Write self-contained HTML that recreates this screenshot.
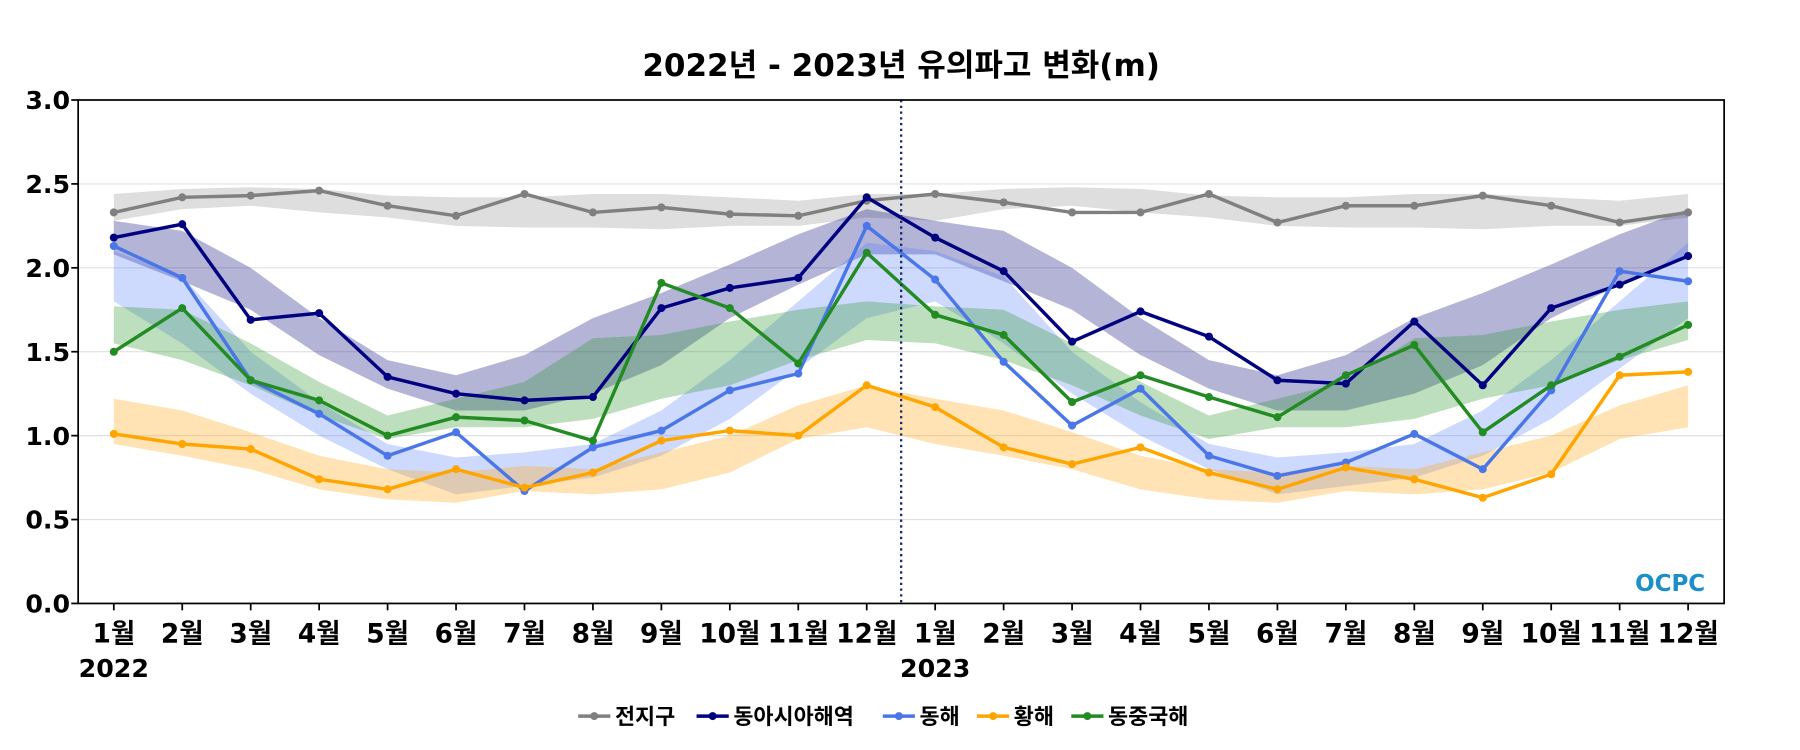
<!DOCTYPE html>
<html><head><meta charset="utf-8">
<style>
html,body{margin:0;padding:0;background:#fff;}
svg{display:block;font-family:"DejaVu Sans","Noto Sans CJK KR",sans-serif;}
</style></head>
<body>
<svg id="chart" width="1800" height="750" viewBox="0 0 1566 652.5" preserveAspectRatio="none">
<text x="784" y="66" text-anchor="middle" font-size="27" font-weight="bold">2022년 - 2023년 유의파고 변화(m)</text>
<g id="grid"></g>
<g id="bands"></g>
<g id="lines"></g>
<line x1="784" y1="87" x2="784" y2="525" stroke="#1a2a6c" stroke-width="2" stroke-dasharray="2,3"/>
<rect x="68" y="87" width="1432" height="438" fill="none" stroke="#000" stroke-width="1.5"/>
<g id="axes"></g>
<text x="1453" y="514" text-anchor="middle" font-size="20" font-weight="bold" fill="#1b8fc9">OCPC</text>
<g id="legend"></g>
</svg>
<script>
const monthLabels=["1월","2월","3월","4월","5월","6월","7월","8월","9월","10월","11월","12월"];
const yTicks=[0,0.5,1,1.5,2,2.5,3];
const globalVals=[2.33,2.42,2.43,2.46,2.37,2.31,2.44,2.33,2.36,2.32,2.31,2.40,2.44,2.39,2.33,2.33,2.44,2.27,2.37,2.37,2.43,2.37,2.27,2.33];
const eastAsiaVals=[2.18,2.26,1.69,1.73,1.35,1.25,1.21,1.23,1.76,1.88,1.94,2.42,2.18,1.98,1.56,1.74,1.59,1.33,1.31,1.68,1.30,1.76,1.90,2.07];
const eastSeaVals=[2.13,1.94,1.33,1.13,0.88,1.02,0.67,0.93,1.03,1.27,1.37,2.25,1.93,1.44,1.06,1.28,0.88,0.76,0.84,1.01,0.80,1.27,1.98,1.92];
const yellowSeaVals=[1.01,0.95,0.92,0.74,0.68,0.80,0.69,0.78,0.97,1.03,1.00,1.30,1.17,0.93,0.83,0.93,0.78,0.68,0.81,0.74,0.63,0.77,1.36,1.38];
const ecsVals=[1.50,1.76,1.33,1.21,1.00,1.11,1.09,0.97,1.91,1.76,1.43,2.09,1.72,1.60,1.20,1.36,1.23,1.11,1.36,1.54,1.02,1.30,1.47,1.66];
const globalHi=[2.44,2.47,2.48,2.47,2.43,2.42,2.42,2.44,2.44,2.42,2.40,2.44];
const globalLo=[2.28,2.35,2.37,2.33,2.30,2.25,2.24,2.24,2.23,2.25,2.25,2.30];
const eastAsiaHi=[2.28,2.22,2.00,1.70,1.45,1.36,1.48,1.70,1.85,2.02,2.20,2.35];
const eastAsiaLo=[2.08,1.92,1.75,1.48,1.28,1.15,1.15,1.25,1.42,1.70,1.90,2.08];
const eastSeaHi=[2.10,1.95,1.50,1.20,0.95,0.87,0.90,0.95,1.15,1.45,1.80,2.15];
const eastSeaLo=[1.80,1.55,1.25,1.00,0.80,0.65,0.70,0.75,0.88,1.10,1.40,1.70];
const yellowSeaHi=[1.22,1.15,1.02,0.88,0.80,0.78,0.82,0.80,0.90,1.00,1.18,1.30];
const yellowSeaLo=[0.95,0.88,0.80,0.68,0.62,0.60,0.67,0.65,0.68,0.78,0.98,1.05];
const ecsHi=[1.77,1.75,1.55,1.32,1.12,1.22,1.32,1.58,1.60,1.68,1.75,1.80];
const ecsLo=[1.55,1.45,1.30,1.12,0.98,1.05,1.05,1.10,1.22,1.30,1.45,1.57];

const NS="http://www.w3.org/2000/svg";
const X=i=>99+i*59.55;
const Y=v=>525-v*146;
function mk(tag,parent,attrs){const e=document.createElementNS(NS,tag);for(const k in attrs)e.setAttribute(k,attrs[k]);document.getElementById(parent).appendChild(e);return e;}

yTicks.forEach(t=>{
  if(t>0&&t<3){const g=mk('line','grid',{x1:68,x2:1500,y1:Y(t),y2:Y(t),stroke:'#e0e0e0','stroke-width':1});
  
  }
  const tk=mk('line','axes',{x1:62,x2:68,y1:Y(t),y2:Y(t),stroke:'#000','stroke-width':1.5});
  
  
  const l=mk('text','axes',{x:61,y:Y(t)+8,'text-anchor':'end','font-size':22,'font-weight':'bold'});
  l.textContent=t.toFixed(1);
  
  
});
for(let i=0;i<24;i++){
  const tk=mk('line','axes',{x1:X(i),x2:X(i),y1:525,y2:531,stroke:'#000','stroke-width':1.5});
  
  
  const l=mk('text','axes',{x:X(i),y:559,'text-anchor':'middle','font-size':23,'font-weight':'bold'});
  l.textContent=monthLabels[i%12];
  
  
}
[["2022",0],["2023",12]].forEach(([yr,i])=>{
  const l=mk('text','axes',{x:X(i),y:589,'text-anchor':'middle','font-size':22,'font-weight':'bold'});
  l.textContent=yr;
  
  
});

const series=[
 {name:'전지구',key:'global',vals:globalVals,hi:globalHi,lo:globalLo,color:'#808080',band:'rgba(160,160,160,0.35)'},
 {name:'동아시아해역',key:'east-asia',vals:eastAsiaVals,hi:eastAsiaHi,lo:eastAsiaLo,color:'#000080',band:'rgba(40,40,140,0.35)'},
 {name:'동해',key:'east-sea',vals:eastSeaVals,hi:eastSeaHi,lo:eastSeaLo,color:'#4a76e8',band:'rgba(90,130,250,0.3)'},
 {name:'황해',key:'yellow-sea',vals:yellowSeaVals,hi:yellowSeaHi,lo:yellowSeaLo,color:'#ffa500',band:'rgba(255,175,40,0.35)'},
 {name:'동중국해',key:'east-china-sea',vals:ecsVals,hi:ecsHi,lo:ecsLo,color:'#228b22',band:'rgba(40,150,40,0.3)'}
];
series.forEach(s=>{
  let up=[],dn=[];
  for(let i=0;i<24;i++){up.push(X(i)+','+Y(s.hi[i%12]));dn.unshift(X(i)+','+Y(s.lo[i%12]));}
  const b=mk('polygon','bands',{points:up.concat(dn).join(' '),fill:s.band});
  
  
});
series.forEach(s=>{
  const pl=mk('polyline','lines',{points:s.vals.map((v,i)=>X(i)+','+Y(v)).join(' '),fill:'none',stroke:s.color,'stroke-width':3});
  
  
  s.vals.forEach((v,i)=>{
    const c=mk('circle','lines',{cx:X(i),cy:Y(v),r:3.5,fill:s.color});
    
    
  });
});
const legX=[503,606,768,850,932];
series.forEach((s,i)=>{
  const x=legX[i];
  const ln=mk('line','legend',{x1:x,x2:x+28,y1:623,y2:623,stroke:s.color,'stroke-width':3});
  
  
  const c=mk('circle','legend',{cx:x+14,cy:623,r:3.5,fill:s.color});
  
  
  const t=mk('text','legend',{x:x+32,y:630,'font-size':19,'font-weight':'bold'});
  t.textContent=s.name;
  
  
});
</script>
</body></html>
